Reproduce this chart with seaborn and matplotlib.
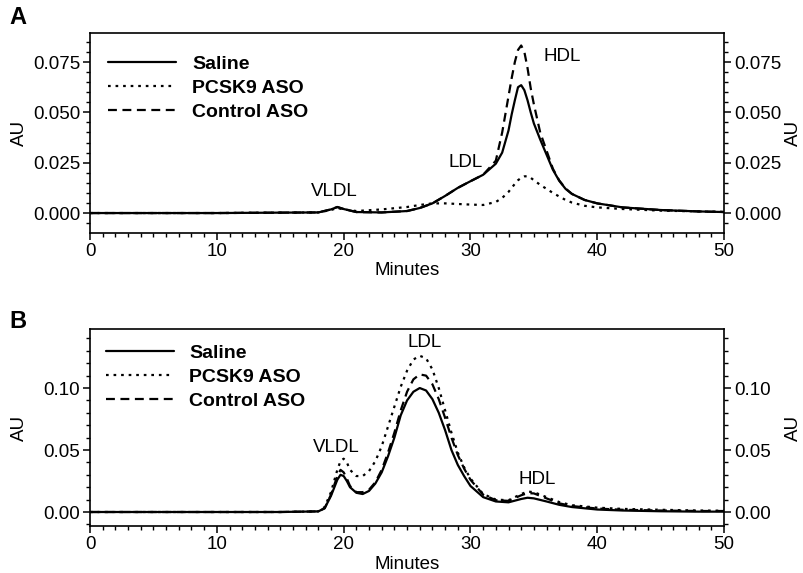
import matplotlib
matplotlib.use("Agg")
import matplotlib.pyplot as plt
from matplotlib.ticker import MultipleLocator, FormatStrFormatter
import pandas as pd
import seaborn as sns

# ---- panel A data (minutes vs AU) ----
a_minutes = [0, 5, 10, 15, 18, 19, 19.5, 20, 21, 23, 25, 26, 27, 28, 29, 30, 31, 32, 32.5,
             33, 33.25, 33.5, 33.75, 34, 34.25, 34.5, 34.75, 35, 35.5, 36, 36.5, 37, 37.5,
             38, 39, 40, 42, 45, 48, 50]
a_saline = [0, 0, 0, 0.0002, 0.0003, 0.0018, 0.003, 0.002, 0.0005, 0.0003, 0.001, 0.0025,
            0.0048, 0.0085, 0.0125, 0.0158, 0.019, 0.0245, 0.030,
            0.041, 0.049, 0.056, 0.0625, 0.0635, 0.061, 0.056, 0.050, 0.0445, 0.0365,
            0.029, 0.0215, 0.016, 0.012, 0.0095, 0.0065, 0.0048, 0.0028, 0.0015, 0.0008, 0.0005]
a_pcsk9 = [0, 0, 0, 0.0002, 0.0003, 0.0015, 0.0025, 0.0018, 0.001, 0.0018, 0.003, 0.004,
           0.0048, 0.0048, 0.0045, 0.0042, 0.004, 0.0055, 0.0075,
           0.0105, 0.0125, 0.0145, 0.0163, 0.0175, 0.0182, 0.0183, 0.0175, 0.0163, 0.014,
           0.012, 0.010, 0.0082, 0.0065, 0.0052, 0.0036, 0.0028, 0.002, 0.0012, 0.0008, 0.0006]
a_control = [0, 0, 0, 0.0002, 0.0003, 0.0018, 0.003, 0.002, 0.0005, 0.0003, 0.001, 0.0025,
             0.0048, 0.0085, 0.0125, 0.0158, 0.019, 0.026, 0.040,
             0.058, 0.067, 0.075, 0.081, 0.0832, 0.080, 0.072, 0.062, 0.054, 0.040,
             0.031, 0.022, 0.0162, 0.0122, 0.0095, 0.0065, 0.0048, 0.0028, 0.0015, 0.0008, 0.0005]

# ---- panel B data ----
b_minutes = [0, 5, 10, 15, 18, 18.5, 19, 19.5, 19.75, 20, 20.25, 20.5, 21, 21.5, 22, 22.5,
             23, 23.5, 24, 24.5, 25, 25.5, 26, 26.5, 27, 27.5, 28, 28.5, 29, 29.5, 30,
             31, 32, 33, 34, 34.5, 35, 36, 37, 38, 40, 42, 45, 48, 50]
b_saline = [0, 0, 0, 0, 0.0005, 0.003, 0.013, 0.026, 0.030, 0.029, 0.025, 0.020, 0.0155,
            0.0145, 0.017, 0.023, 0.032, 0.045, 0.060, 0.078, 0.090, 0.097, 0.100, 0.098,
            0.091, 0.080, 0.066, 0.050, 0.038, 0.029, 0.021, 0.012, 0.0085, 0.0078, 0.0105,
            0.0115, 0.011, 0.0085, 0.0058, 0.004, 0.002, 0.0012, 0.0006, 0.0003, 0.0003]
b_pcsk9 = [0, 0, 0, 0, 0.0005, 0.004, 0.016, 0.034, 0.041, 0.043, 0.040, 0.034, 0.029,
           0.029, 0.033, 0.041, 0.053, 0.069, 0.085, 0.101, 0.114, 0.123, 0.126, 0.124,
           0.115, 0.100, 0.082, 0.064, 0.048, 0.036, 0.027, 0.0145, 0.010, 0.0095, 0.0145,
           0.0165, 0.016, 0.012, 0.008, 0.0055, 0.0035, 0.0025, 0.0018, 0.0012, 0.001]
b_control = [0, 0, 0, 0, 0.0005, 0.003, 0.014, 0.029, 0.034, 0.032, 0.027, 0.021, 0.016,
             0.016, 0.018, 0.024, 0.034, 0.048, 0.064, 0.082, 0.097, 0.107, 0.111, 0.110,
             0.103, 0.091, 0.076, 0.060, 0.046, 0.035, 0.026, 0.014, 0.0095, 0.009, 0.0135,
             0.0152, 0.015, 0.011, 0.007, 0.0048, 0.0028, 0.0018, 0.0012, 0.0008, 0.0008]

series_labels = ["Saline", "PCSK9 ASO", "Control ASO"]
series_styles = ["-", (0, (1.2, 2.2)), (0, (4, 2.5))]

# fraction labels: (text, minutes, AU)
a_peaks = [("VLDL", 19.3, 0.0065), ("LDL", 29.6, 0.021), ("HDL", 37.2, 0.0735)]
b_peaks = [("VLDL", 19.4, 0.045), ("LDL", 26.4, 0.130), ("HDL", 35.3, 0.019)]

sns.set_style("ticks", {"axes.edgecolor": "black", "text.color": "black",
                        "xtick.color": "black", "ytick.color": "black",
                        "axes.labelcolor": "black"})
plt.rcParams["font.family"] = ["Liberation Sans", "DejaVu Sans"]
plt.rcParams["axes.linewidth"] = 1.2

fig = plt.figure(figsize=(8.04, 5.73), dpi=100)
ax_a = fig.add_axes([0.112, 0.5934, 0.7886, 0.349])
ax_b = fig.add_axes([0.112, 0.082, 0.7886, 0.3438])


def draw_panel(ax, minutes, curves, ylim, yticks, fmt, ymin_step, peaks, leg_pad, leg_x,
               left_pad):
    df = pd.DataFrame({"Minutes": minutes})
    for lab, vals in zip(series_labels, curves):
        df[lab] = vals
    for lab, ls in zip(series_labels, series_styles):
        sns.lineplot(data=df, x="Minutes", y=lab, ax=ax, color="black", lw=1.6,
                     linestyle=ls, label=lab)
    ax.set_xlim(0, 50)
    ax.set_ylim(*ylim)
    ax.set_yticks(yticks)
    ax.yaxis.set_major_formatter(FormatStrFormatter(fmt))
    ax.xaxis.set_major_locator(MultipleLocator(10))
    ax.xaxis.set_minor_locator(MultipleLocator(1))
    ax.yaxis.set_minor_locator(MultipleLocator(ymin_step))
    ax.tick_params(which="major", length=5, width=1.1, labelsize=13.5, direction="out",
                   right=True, labelright=True, top=False, pad=2)
    ax.tick_params(which="minor", length=3, width=1.0, direction="out", right=True, top=False)
    for s in ax.spines.values():
        s.set_visible(True)
    ax.set_xlabel("Minutes", fontsize=13.5, labelpad=2)
    ax.set_ylabel("AU", fontsize=13.5, labelpad=left_pad)
    right = ax.secondary_yaxis("right")
    right.set_yticks([])
    right.set_ylabel("AU", fontsize=13.5, labelpad=44)
    right.spines["right"].set_visible(False)
    for txt, x, y in peaks:
        ax.text(x, y, txt, fontsize=13.5, ha="center", va="bottom")
    ax.legend(loc="upper left", bbox_to_anchor=(leg_x, 1.0), frameon=False,
              handlelength=3.5, handletextpad=0.8, labelspacing=0.32,
              prop={"weight": "bold", "size": 14}, borderaxespad=leg_pad)


draw_panel(ax_a, a_minutes, [a_saline, a_pcsk9, a_control], (-0.0099, 0.0894),
           [0, 0.025, 0.05, 0.075], "%.3f", 0.005, a_peaks, 0.75, -0.0063, 4)
draw_panel(ax_b, b_minutes, [b_saline, b_pcsk9, b_control], (-0.0113, 0.1476),
           [0, 0.05, 0.10], "%.2f", 0.01, b_peaks, 0.4, 0.0, 11.5)

fig.text(18 / 804, 1 - 18 / 573, "A", fontsize=17, fontweight="bold", ha="center", va="center")
fig.text(18 / 804, 1 - 322 / 573, "B", fontsize=17, fontweight="bold", ha="center", va="center")

fig.savefig("out.png", dpi=100)
